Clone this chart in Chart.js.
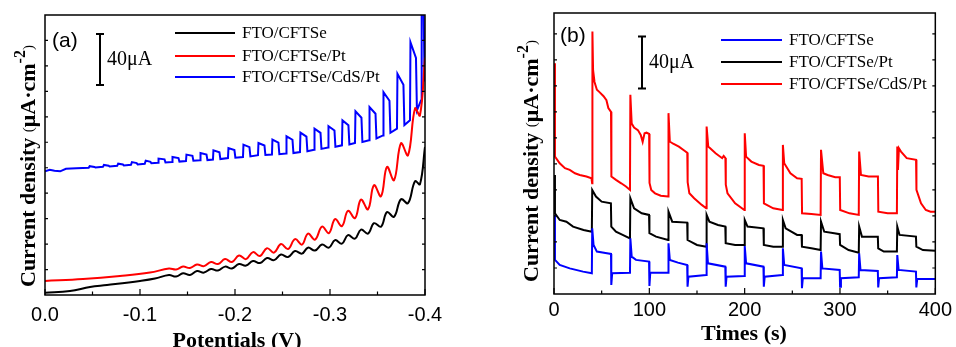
<!DOCTYPE html>
<html>
<head>
<meta charset="utf-8">
<script src="https://cdn.jsdelivr.net/npm/chart.js@4.4.0/dist/chart.umd.min.js"></script>
<style>
  html, body { margin: 0; padding: 0; background: #fff; }
  #wrap { position: relative; width: 956px; height: 347px; overflow: hidden; }
  .panel { position: absolute; top: 0; width: 478px; height: 347px; }
</style>
</head>
<body>
<div id="wrap">
  <div class="panel" style="left:0"><canvas id="chart-a"></canvas></div>
  <div class="panel" style="left:478px"><canvas id="chart-b"></canvas></div>
</div>
<script>
// ---- panel (a): chopped-light LSV, potential (V) vs current density (uA/cm2) ----
const aTicks = [0, -0.1, -0.2, -0.3, -0.4];
const aTickLabels = ['0.0', '-0.1', '-0.2', '-0.3', '-0.4'];
const aMinorTicks = [-0.05, -0.15, -0.25, -0.35];
const yTicks = [20, 40, 60, 80, 100, 120, 140, 160, 180, 200];

const aBlackV = [0, -0.0263, -0.0474, -0.0653, -0.1000, -0.1158,
  -0.1305, -0.1379, -0.1453, -0.1526, -0.1600, -0.1674, -0.1747, -0.1821, -0.1895, -0.1968,
  -0.2042, -0.2116, -0.2189, -0.2263, -0.2337, -0.2411, -0.2484, -0.2558, -0.2632, -0.2705,
  -0.2768, -0.2842, -0.2916, -0.2989, -0.3053, -0.3126, -0.3189, -0.3263, -0.3326, -0.3400,
  -0.3463, -0.3537, -0.3600, -0.3674, -0.3747, -0.3821, -0.3895, -0.3947, -0.4000];
const aBlackJ = [1.8, 3.1, 6.3, 7.8, 11.0, 12.9,
  15.7, 14.5, 17.0, 15.7, 18.8, 17.6, 20.4, 19.2, 22.3, 20.8,
  24.3, 23.1, 26.7, 25.1, 29.0, 27.4, 31.8, 29.8, 34.5, 32.5,
  37.2, 34.9, 39.6, 37.2, 43.1, 40.4, 47.0, 44.3, 51.4, 48.2,
  56.4, 53.7, 65.1, 61.5, 75.3, 72.1, 89.4, 87.0, 116.3];

const aRedV = [0, -0.0400, -0.0789, -0.1105,
  -0.1305, -0.1379, -0.1453, -0.1526, -0.1600, -0.1674, -0.1747, -0.1821, -0.1895, -0.1968,
  -0.2042, -0.2116, -0.2189, -0.2263, -0.2337, -0.2411, -0.2484, -0.2558, -0.2632, -0.2705,
  -0.2768, -0.2842, -0.2916, -0.2989, -0.3053, -0.3126, -0.3189, -0.3263, -0.3326, -0.3400,
  -0.3463, -0.3537, -0.3600, -0.3674, -0.3747, -0.3821, -0.3895, -0.3947, -0.4000];
const aRedJ = [11.0, 12.5, 14.9, 17.6,
  20.8, 20.0, 22.3, 21.2, 23.9, 22.7, 25.9, 24.3, 28.2, 25.9,
  31.0, 28.2, 33.7, 30.6, 36.8, 33.3, 40.0, 36.1, 43.9, 39.6,
  48.2, 43.5, 53.7, 48.6, 59.6, 54.1, 66.2, 60.4, 74.9, 67.4,
  86.2, 77.6, 100.6, 90.2, 119.2, 109.8, 146.6, 141.1, 186.6];

const aBlueV = [0, -0.005, -0.010, -0.016, -0.022, -0.033, -0.046, -0.047, -0.052, -0.053,
  -0.061, -0.062, -0.067, -0.068, -0.076, -0.077, -0.082, -0.083, -0.0905, -0.0915,
  -0.0965, -0.0975, -0.105, -0.106, -0.111, -0.112,
  -0.1190, -0.1195, -0.1258, -0.1268,
  -0.1337, -0.1342, -0.1405, -0.1415,
  -0.1484, -0.1489, -0.1552, -0.1562,
  -0.1632, -0.1637, -0.1700, -0.1710,
  -0.1768, -0.1773, -0.1836, -0.1846,
  -0.1926, -0.1931, -0.1994, -0.2004,
  -0.2084, -0.2089, -0.2152, -0.2162,
  -0.2242, -0.2247, -0.2310, -0.2320,
  -0.2389, -0.2394, -0.2457, -0.2467,
  -0.2537, -0.2542, -0.2605, -0.2615,
  -0.2684, -0.2689, -0.2752, -0.2762,
  -0.2832, -0.2837, -0.2900, -0.2910,
  -0.2979, -0.2984, -0.3047, -0.3057,
  -0.3126, -0.3131, -0.3194, -0.3204,
  -0.3263, -0.3268, -0.3331, -0.3341,
  -0.3411, -0.3416, -0.3479, -0.3489,
  -0.3558, -0.3563, -0.3626, -0.3636,
  -0.3705, -0.3710, -0.3773, -0.3783,
  -0.3842, -0.3847, -0.3905, -0.3915,
  -0.3958, -0.3965, -0.3985, -0.3995, -0.4000];
const aBlueJ = [97.2, 98.4, 97.6, 97.2, 99.2, 99.6, 100.0, 101.2, 100.6, 100.2,
  100.7, 102.2, 101.6, 101.0, 101.5, 103.2, 102.5, 101.8, 102.3, 104.4,
  103.6, 102.6, 103.1, 105.6, 104.6, 103.5,
  104.0, 107.2, 106.6, 104.2,
  104.5, 108.4, 107.6, 104.8,
  105.3, 110.3, 109.3, 105.5,
  105.8, 111.6, 110.4, 106.0,
  106.4, 113.7, 112.2, 106.8,
  107.6, 115.5, 113.9, 107.9,
  108.4, 118.1, 116.2, 108.9,
  109.8, 119.4, 117.5, 110.0,
  110.3, 122.1, 119.7, 110.6,
  111.1, 124.7, 122.0, 111.5,
  112.3, 127.6, 124.5, 113.0,
  114.2, 130.7, 127.4, 114.8,
  115.8, 132.7, 129.3, 116.5,
  117.6, 137.2, 133.3, 118.2,
  119.4, 144.3, 139.3, 120.2,
  121.5, 147.6, 142.4, 123.0,
  125.4, 159.4, 152.6, 127.5,
  130.7, 173.8, 165.2, 133.5,
  137.2, 198.6, 186.3, 145.0,
  152.9, 230.0, 230.0, 168.6, 168.6];

// ---- panel (b): transient photocurrent, time (s) vs current density ----
const bTicks = [0, 100, 200, 300, 400];
const bMinorTicks = [50, 150, 250, 350];

const bBlueT = [0, 1, 6, 16.5, 30.5, 39.7,
  40.1, 41.5, 45, 55.5, 59.8, 60.1, 61, 79.7,
  80.1, 81.5, 86, 99.7, 100.1, 101, 119.7,
  120.1, 121.5, 130, 139.7, 140.1, 141, 159.7,
  160.1, 161.5, 179.7, 180.1, 181, 199.7,
  200.1, 201.5, 219.7, 220.1, 221, 239.7,
  240.1, 241.5, 259.7, 260.1, 261, 279.7,
  280.1, 281.5, 299.7, 300.1, 301, 319.7,
  320.1, 321.5, 339.7, 340.1, 341, 359.7,
  360.1, 361.5, 379.7, 380.1, 381, 400];
const bBlueJ = [60.8, 26.2, 22.3, 19.7, 17.2, 15.9,
  50.5, 37.7, 32.6, 31.3, 30.8, 6.9, 15.9, 16.4,
  42.8, 28.7, 26.2, 24.9, 6.2, 16.4, 16.4,
  39.0, 26.2, 24.1, 22.3, 5.6, 13.3, 14.6,
  39.0, 23.6, 21.0, 5.6, 13.3, 13.8,
  36.9, 23.6, 21.0, 5.6, 13.3, 14.6,
  35.1, 22.3, 19.7, 4.4, 12.1, 12.1,
  32.6, 19.7, 18.5, 5.6, 12.1, 12.8,
  31.3, 18.5, 17.7, 5.1, 12.1, 12.8,
  29.9, 18.5, 17.2, 5.1, 11.5, 11.5];

const bBlackT = [0, 1, 6, 13, 20, 31, 39.7,
  40.1, 44, 50, 59.7, 60.1, 65, 72, 79.7,
  80.1, 84, 92, 99.7, 100.1, 107, 119.7,
  120.1, 124, 139.7, 140.1, 150, 159.7,
  160.1, 163, 172, 179.7, 180.1, 190, 199.7,
  200.1, 203, 219.7, 220.1, 230, 239.7,
  240.1, 243, 255, 259.7, 260.1, 270, 279.7,
  280.1, 283.5, 294, 299.7, 300.1, 309, 319.7,
  320.1, 323, 339.7, 340.1, 346, 359.7,
  360.1, 362.5, 379.7, 380.1, 387, 400];
const bBlackJ = [91.5, 62.0, 56.9, 55.6, 51.8, 49.2, 47.9,
  80.0, 74.9, 71.0, 69.7, 51.8, 47.9, 45.4, 42.8,
  73.6, 65.9, 62.0, 60.8, 46.7, 44.1, 41.5,
  63.3, 55.6, 54.9, 41.5, 37.7, 36.4,
  60.8, 55.6, 53.1, 51.8, 39.0, 37.7, 37.7,
  56.9, 51.8, 50.5, 37.7, 36.4, 36.4,
  56.9, 50.5, 45.4, 45.4, 36.4, 35.1, 33.8,
  55.6, 47.9, 46.7, 46.0, 37.7, 33.8, 31.8,
  51.8, 44.1, 44.1, 35.1, 32.6, 32.6,
  51.8, 45.4, 44.1, 36.4, 33.8, 33.3];

const bRedT = [0, 1, 6, 11.5, 16.5, 22, 27, 34, 39.3, 40,
  40.3, 41, 42.5, 45, 48, 52, 55, 57, 59.8,
  60.2, 65, 70.5, 75.5, 79.7,
  80.1, 81.5, 84, 88, 91, 93, 95, 97, 99.8,
  100.2, 102, 106, 112, 119.7,
  120.1, 121.5, 125, 131, 138, 139.8,
  140.2, 142, 147, 155, 159.7,
  160.1, 161.8, 169.5, 176.4, 178, 179.8,
  180.2, 182, 190, 199.7,
  200.1, 201.5, 207, 215, 219.8,
  220.2, 230, 239.7,
  240.1, 241.5, 248, 255, 259.8,
  260.2, 270, 279.7,
  280.1, 282.5, 287, 295, 299.8,
  300.2, 310, 319.7,
  320.1, 322, 330, 339.8,
  340.2, 350, 359.7,
  360.1, 360.8, 361.8, 364, 370, 379.8,
  380.2, 385, 390, 395, 400];
const bRedJ = [177.4, 105.6, 100.5, 96.7, 95.4, 92.8, 91.5, 90.3, 89.0, 85.1,
  201.8, 172, 163, 157, 155, 152, 149, 143, 140,
  90.3, 87.7, 85.1, 82.6, 80.0,
  153.1, 131, 128, 126, 122.3, 117, 123.6, 124, 123,
  85.4, 80, 77.4, 75.5, 74.9,
  139.0, 117.2, 115.5, 113.3, 109.5, 108.5,
  86.0, 77.4, 73.6, 68.5, 65.9,
  128.7, 113.3, 108.2, 104.4, 106.1, 104.5,
  84.0, 77.4, 69.7, 64.6,
  123.6, 105.6, 101.8, 99.2, 98.5,
  69.7, 65.9, 64.6,
  114.6, 100.5, 92.8, 89.0, 88.5,
  62.0, 61.5, 60.8,
  110.8, 92.8, 91.5, 89.7, 89.7,
  64.6, 62.0, 60.8,
  109.5, 91.5, 90.3, 90.3,
  63.3, 62.0, 62.0,
  113.3, 95.4, 112.0, 109.5, 104.4, 103.1,
  80.0, 69.7, 64.6, 63.3, 63.3];

const SERIF = '"Liberation Serif", "Times New Roman", serif';
const SANS = '"Liberation Sans", Arial, sans-serif';

function pts(xs, ys) {
  return xs.map((x, i) => ({ x: x, y: ys[i] }));
}

function line(label, xs, ys, color, tension) {
  return {
    label: label,
    data: pts(xs, ys),
    borderColor: color,
    backgroundColor: color,
    borderWidth: 2,
    pointRadius: 0,
    fill: false,
    tension: tension
  };
}

// frame, inner ticks, legend, scale bar and titles
function decor(cfg) {
  return {
    id: 'decor',
    afterDraw(chart) {
      const ctx = chart.ctx;
      const a = chart.chartArea;
      const xs = chart.scales.x;
      const ys = chart.scales.y;
      ctx.save();
      ctx.strokeStyle = '#000';
      ctx.lineWidth = 1.5;
      ctx.strokeRect(a.left, a.top, a.right - a.left, a.bottom - a.top);

      ctx.lineWidth = 1.2;
      ctx.beginPath();
      cfg.xMajor.forEach(v => {
        const p = xs.getPixelForValue(v);
        ctx.moveTo(p, a.bottom); ctx.lineTo(p, a.bottom - 6);
      });
      cfg.xMinor.forEach(v => {
        const p = xs.getPixelForValue(v);
        ctx.moveTo(p, a.bottom); ctx.lineTo(p, a.bottom - 3.5);
      });
      yTicks.forEach(v => {
        const p = ys.getPixelForValue(v);
        ctx.moveTo(a.left, p); ctx.lineTo(a.left + 3, p);
        ctx.moveTo(a.right, p); ctx.lineTo(a.right - 3, p);
      });
      ctx.stroke();

      // panel letter
      ctx.fillStyle = '#000';
      ctx.font = '21px ' + SANS;
      ctx.textAlign = 'left';
      ctx.textBaseline = 'middle';
      ctx.fillText(cfg.letter, cfg.letterX, cfg.letterY);

      // 40 uA scale bar
      const top = ys.getPixelForValue(cfg.barTop);
      const bot = ys.getPixelForValue(cfg.barTop - 40);
      ctx.lineWidth = 2;
      ctx.beginPath();
      ctx.moveTo(cfg.barX, top); ctx.lineTo(cfg.barX, bot);
      ctx.moveTo(cfg.barX - 4, top); ctx.lineTo(cfg.barX + 4, top);
      ctx.moveTo(cfg.barX - 4, bot); ctx.lineTo(cfg.barX + 4, bot);
      ctx.stroke();
      ctx.font = '20px ' + SERIF;
      ctx.fillText('40\u03bcA', cfg.barX + 7, (top + bot) / 2);

      // legend
      ctx.font = '17px ' + SERIF;
      cfg.legend.forEach((it, i) => {
        const y = cfg.legY[i];
        ctx.strokeStyle = it.color;
        ctx.lineWidth = 2;
        ctx.beginPath();
        ctx.moveTo(cfg.legX0, y); ctx.lineTo(cfg.legX1, y);
        ctx.stroke();
        ctx.fillText(it.text, cfg.legX1 + 7, y + 1);
      });

      // x title
      ctx.font = 'bold 22px ' + SERIF;
      ctx.textAlign = 'center';
      ctx.textBaseline = 'alphabetic';
      ctx.fillText(cfg.xTitle, cfg.xTitleX, cfg.xTitleY);

      // y title, rotated, with superscript
      ctx.translate(cfg.yTitleX, cfg.yTitleY);
      ctx.rotate(-Math.PI / 2);
      ctx.textAlign = 'left';
      const parts = [
        { t: 'Current density ', f: 'bold 22px ' + SERIF, dy: 0 },
        { t: '(', f: '15px ' + SERIF, dy: -2 },
        { t: '\u03bcA', f: 'bold 22px ' + SERIF, dy: 0 },
        { t: '\u00b7', f: 'bold 22px ' + SERIF, dy: 0 },
        { t: 'cm', f: 'bold 22px ' + SERIF, dy: 0 },
        { t: '-2', f: 'bold 16px ' + SERIF, dy: -10 },
        { t: ')', f: '15px ' + SERIF, dy: -2 }
      ];
      let px = 0;
      parts.forEach(p => {
        ctx.font = p.f;
        ctx.fillText(p.t, px, p.dy);
        px += ctx.measureText(p.t).width;
      });
      ctx.restore();
    }
  };
}

function makeChart(id, datasets, xCfg, pad, axisH, deco) {
  return new Chart(document.getElementById(id), {
    type: 'line',
    data: { datasets: datasets },
    options: {
      responsive: true,
      maintainAspectRatio: false,
      animation: false,
      devicePixelRatio: 1,
      layout: { padding: pad },
      plugins: { legend: { display: false }, tooltip: { enabled: false } },
      scales: {
        x: Object.assign({
          type: 'linear',
          grid: { display: false, drawTicks: false },
          border: { display: false },
          afterFit: s => { s.height = axisH; }
        }, xCfg),
        y: { type: 'linear', display: false, min: 0, max: deco.yMax }
      }
    },
    plugins: [decor(deco)]
  });
}

makeChart('chart-a', [
  line('FTO/CFTSe', aBlackV, aBlackJ, '#000000', 0.4),
  line('FTO/CFTSe/Pt', aRedV, aRedJ, '#ff0000', 0.4),
  line('FTO/CFTSe/CdS/Pt', aBlueV, aBlueJ, '#0000ff', 0)
], {
  min: -0.4, max: 0, reverse: true,
  afterBuildTicks: s => { s.ticks = aTicks.map(v => ({ value: v })); },
  ticks: {
    color: '#000', font: { family: SANS, size: 20 }, padding: 8,
    autoSkip: false, maxRotation: 0, minRotation: 0,
    callback: v => aTickLabels[aTicks.indexOf(v)]
  }
}, { left: 45, right: 53, top: 15, bottom: 0 }, 52, {
  yMax: 220,
  xMajor: aTicks, xMinor: aMinorTicks,
  letter: '(a)', letterX: 52, letterY: 41,
  barX: 100, barTop: 205,
  legX0: 175, legX1: 235, legY: [33, 56, 77],
  legend: [
    { text: 'FTO/CFTSe', color: '#000000' },
    { text: 'FTO/CFTSe/Pt', color: '#ff0000' },
    { text: 'FTO/CFTSe/CdS/Pt', color: '#0000ff' }
  ],
  xTitle: 'Potentials (V)', xTitleX: 237, xTitleY: 347,
  yTitleX: 35, yTitleY: 287
});

makeChart('chart-b', [
  line('FTO/CFTSe', bBlueT, bBlueJ, '#0000ff', 0),
  line('FTO/CFTSe/Pt', bBlackT, bBlackJ, '#000000', 0),
  line('FTO/CFTSe/CdS/Pt', bRedT, bRedJ, '#ff0000', 0)
], {
  min: 0, max: 400,
  afterBuildTicks: s => { s.ticks = bTicks.map(v => ({ value: v })); },
  ticks: {
    color: '#000', font: { family: SANS, size: 20 }, padding: 4,
    autoSkip: false, maxRotation: 0, minRotation: 0
  }
}, { left: 76, right: 18, top: 13, bottom: 0 }, 53, {
  yMax: 216,
  xMajor: bTicks, xMinor: bMinorTicks,
  letter: '(b)', letterX: 82, letterY: 36,
  barX: 164, barTop: 198,
  legX0: 243, legX1: 304, legY: [40, 62, 84],
  legend: [
    { text: 'FTO/CFTSe', color: '#0000ff' },
    { text: 'FTO/CFTSe/Pt', color: '#000000' },
    { text: 'FTO/CFTSe/CdS/Pt', color: '#ff0000' }
  ],
  xTitle: 'Times (s)', xTitleX: 266, xTitleY: 340,
  yTitleX: 60, yTitleY: 282
});
</script>
</body>
</html>
